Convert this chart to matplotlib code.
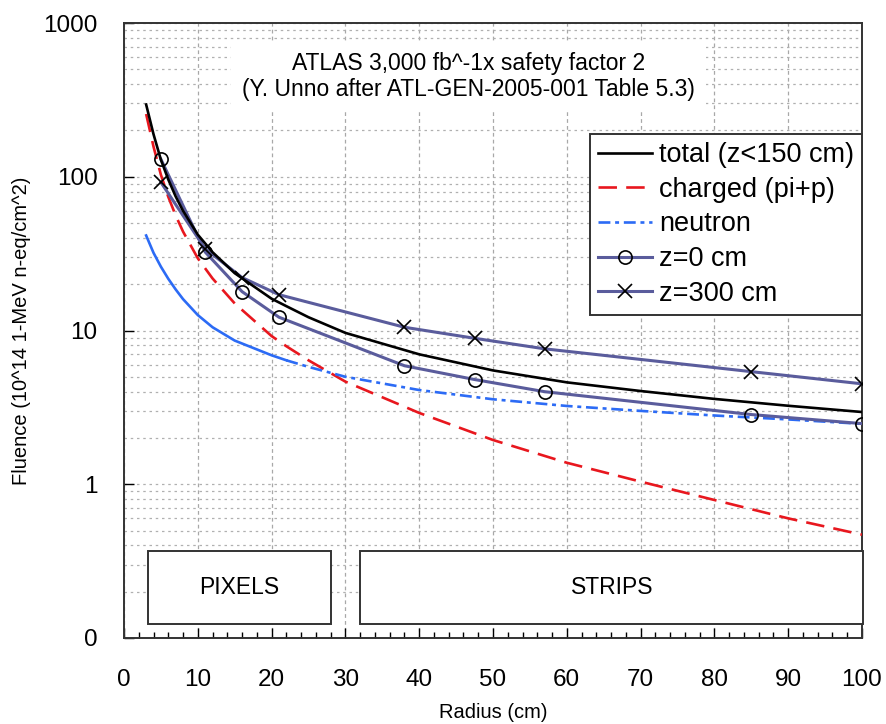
import numpy as np
import matplotlib
matplotlib.use("Agg")
from matplotlib import pyplot as plt
from matplotlib.patches import Rectangle
from matplotlib.lines import Line2D

plt.rcParams['font.family'] = ['Liberation Sans', 'DejaVu Sans']

# curve values (fluence, 1e14 n-eq/cm^2)
radius = [3, 4, 5, 6, 7, 8, 10, 12, 15, 20, 22, 25, 30, 40, 50, 60, 70, 80, 90, 100]
total = [295, 189, 129, 96, 74.5, 60, 42, 32.3, 23.6, 16.1, 14.4, 12.2, 9.65, 7.0, 5.5, 4.6, 4.04, 3.59, 3.24, 2.95]
charged = [256, 157, 103, 74, 56, 44, 29.5, 21.8, 15.0, 9.2, 7.9, 6.4, 4.65, 2.91, 1.94, 1.38, 1.04, 0.79, 0.60, 0.47]
neutron = [41.5, 32, 26, 21.7, 18.5, 16.0, 12.6, 10.5, 8.6, 6.9, 6.4, 5.8, 5.0, 4.1, 3.57, 3.23, 3.0, 2.8, 2.64, 2.47]
neutron_break = 22

# measured points
z_r = [5, 11, 16, 21, 38, 47.5, 57, 85, 100]
z0 = [130, 32.4, 17.9, 12.2, 5.9, 4.8, 4.0, 2.84, 2.48]
z300 = [92, 34, 22.1, 17.1, 10.5, 8.9, 7.6, 5.4, 4.5]

title_lines = "ATLAS 3,000 fb^-1x safety factor 2\n(Y. Unno after ATL-GEN-2005-001 Table 5.3)"

RED = '#e8171e'
BLUE = '#2c6bf5'
SLATE = '#5a5c9c'

fig = plt.figure(figsize=(8.87, 7.24), dpi=100)
ax = fig.add_axes([0.1398, 0.1188, 0.9718 - 0.1398, 0.9682 - 0.1188])
ax.set_yscale('log')
ax.set_xlim(0, 100)
ax.set_ylim(0.1, 1000)

# grid
ax.set_axisbelow(True)
ax.set_xticks(np.arange(0, 101, 10))
ax.set_xticks(np.arange(0, 101, 2), minor=True)
ax.set_yticks([0.1, 1, 10, 100, 1000], labels=['0', '1', '10', '100', '1000'])
ax.yaxis.set_minor_locator(matplotlib.ticker.LogLocator(base=10, subs=np.arange(2, 10)))
ax.yaxis.set_minor_formatter(matplotlib.ticker.NullFormatter())
ax.grid(True, which='major', axis='x', color='#a8a8a8', lw=0.9, ls=(0, (3, 2.5)))
ax.grid(True, which='both', axis='y', color='#b0b0b0', lw=0.9, ls=(0, (2, 3)))

ax.tick_params(axis='x', which='major', direction='in', length=7, width=1, labelsize=17.5, pad=22)
ax.tick_params(axis='x', which='minor', direction='in', length=4, width=1)
ax.tick_params(axis='y', which='major', direction='in', length=7, width=1, labelsize=17.5, pad=19)
ax.tick_params(axis='y', which='minor', length=0)
for s in ax.spines.values():
    s.set_color('#333333')
    s.set_linewidth(1.4)

# curves
r = np.array(radius)
nv = np.array(neutron)
ax.plot(radius, charged, color=RED, lw=1.9, dashes=(7, 3.5), zorder=3)
ax.plot(r[r <= neutron_break], nv[r <= neutron_break], color=BLUE, lw=1.9, zorder=3)
ax.plot(r[r >= neutron_break], nv[r >= neutron_break], color=BLUE, lw=1.9,
        dashes=(4.5, 1.8, 1.5, 1.8), zorder=3)
ax.plot(z_r, z0, color=SLATE, lw=2.2, marker='o', ms=9.5, mfc='none', mec='black', mew=1.2, zorder=4)
ax.plot(z_r, z300, color=SLATE, lw=2.2, marker='x', ms=10, mec='black', mew=1.2, zorder=4)
ax.plot(radius, total, color='black', lw=1.9, zorder=5)

# detector boxes
box_y0, box_y1 = 0.124, 0.366
for x0, x1, name in [(3.3, 28.0, 'PIXELS'), (32.0, 100.2, 'STRIPS')]:
    ax.add_patch(Rectangle((x0, box_y0), x1 - x0, box_y1 - box_y0, facecolor='white',
                           edgecolor='#333333', lw=1.4, zorder=6, clip_on=False))
    ax.text((x0 + x1) / 2, np.sqrt(box_y0 * box_y1), name, ha='center', va='center',
            fontsize=16.5, zorder=7)

ax.text(46.7, 449, title_lines, ha='center', va='center', multialignment='center',
        fontsize=16.5, linespacing=1.15, zorder=6,
        bbox=dict(facecolor='white', edgecolor='none', pad=8))

handles = [
    Line2D([], [], color='black', lw=1.9),
    Line2D([], [], color=RED, lw=1.9, dashes=(7, 3.5)),
    Line2D([], [], color=BLUE, lw=1.9, dashes=(4.5, 1.8, 1.5, 1.8)),
    Line2D([], [], color=SLATE, lw=2.2, marker='o', ms=9.5, mfc='none', mec='black', mew=1.2),
    Line2D([], [], color=SLATE, lw=2.2, marker='x', ms=10, mec='black', mew=1.2),
]
labels = ['total (z<150 cm)', 'charged (pi+p)', 'neutron', 'z=0 cm', 'z=300 cm']
leg = ax.legend(handles, labels, loc='upper right', bbox_to_anchor=(1.0, 0.8195),
                borderaxespad=0, fontsize=19.5, handlelength=2.0, handletextpad=0.25,
                labelspacing=0.32, borderpad=0.3, fancybox=False, framealpha=1,
                edgecolor='#333333')
leg.get_frame().set_linewidth(1.4)
leg.set_zorder(8)

ax.set_xlabel('Radius (cm)', fontsize=14.5, labelpad=9)
ax.set_ylabel('Fluence (10^14 1-MeV n-eq/cm^2)', fontsize=14.5, labelpad=9)

fig.savefig('out.png', dpi=100)
